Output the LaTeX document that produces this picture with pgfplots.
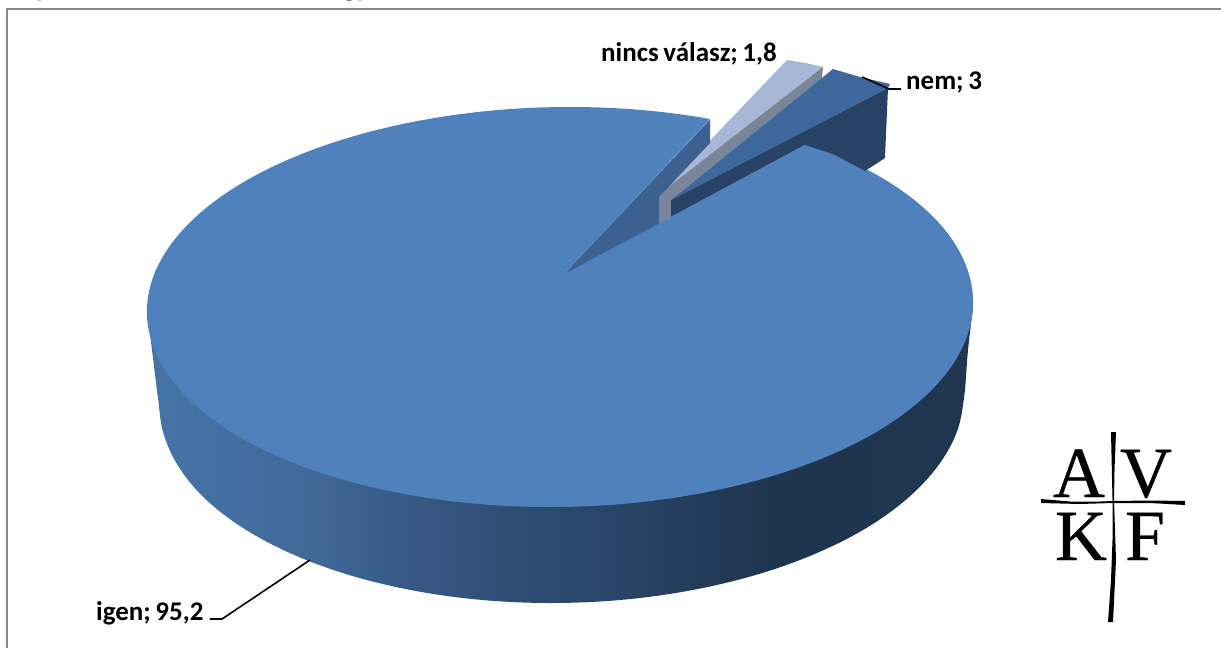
\documentclass[border=0pt]{standalone}
\usepackage{fontspec}
\setmainfont{Carlito}[WordSpace=0.75]
\newfontfamily\serif[FakeBold=0.4]{Liberation Serif}
\usepackage{pgfplots}
\pgfplotsset{compat=1.18}
\definecolor{topc}{RGB}{79,129,189}
\definecolor{wallc}{RGB}{60,97,144}
\definecolor{nemtop}{RGB}{62,104,156}
\definecolor{nemwall}{RGB}{39,66,100}
\definecolor{lighttop}{RGB}{167,183,213}
\definecolor{graywall}{RGB}{122,133,153}
\definecolor{bordc}{RGB}{134,134,134}
\definecolor{sa}{RGB}{70,116,168}
\definecolor{sb}{RGB}{65,106,153}
\definecolor{sc}{RGB}{55,90,134}
\definecolor{sd}{RGB}{44,74,112}
\definecolor{se}{RGB}{36,60,90}
\definecolor{sf}{RGB}{31,52,78}
\definecolor{sg}{RGB}{32,53,79}
\pgfdeclarehorizontalshading{sideshade}{100bp}{
 color(0bp)=(sa);
 color(25bp)=(sa);
 color(34.3bp)=(sb);
 color(40.3bp)=(sc);
 color(49.4bp)=(sd);
 color(58.5bp)=(se);
 color(62.7bp)=(sf);
 color(75bp)=(sg);
 color(100bp)=(sg)}
\tikzset{lab/.style={font=\fontsize{27}{27}\selectfont\bfseries, inner sep=0pt, anchor=base west},
 logo/.style={font=\serif\fontsize{72}{72}\selectfont, inner sep=0pt, anchor=base}}
\begin{document}
\begin{tikzpicture}
\useasboundingbox (0,0) rectangle (1221pt,648pt);
\begin{axis}[
  at={(0,0)}, anchor=south west,
  scale only axis, width=1221pt, height=648pt,
  xmin=0, xmax=1221, ymin=0, ymax=648, y dir=reverse,
  hide axis, clip=true,
  every axis plot/.append style={line join=round},
]
% frame
\addplot[bordc, line width=2pt] coordinates {(7,648)(7,9)(1221,9)};
% side of the big slice
\addplot[shading=sideshade, draw=none, smooth, tension=0.6] coordinates {
(147,307)(152,350)(158,398)(163.5,433.6)(179.5,468.1)(207,500.5)(245.9,529.8)(294.3,555)(350.8,575.5)(413.8,590.6)(481.2,599.9)(551,603)
(621.2,599.9)(689.4,590.6)(753.8,575.5)(812.3,555)(863.3,529.8)(905,500.5)(936.3,468.1)(956.2,433.6)(964,398)(968,350)(973,307)} -- cycle;
% top of the disc
\addplot[fill=topc, draw=none, smooth, tension=0.6] coordinates {
(965,341.7)(973,307)(968.4,272.3)(951.5,238.6)(922.7,207)(882.8,178.4)(833.2,153.8)(775.2,133.8)(710.6,119.1)(641.5,110)(570,107)(498.1,110)(428.2,119.1)(362.2,133.8)(302.2,153.8)(250,178.4)(207.3,207)(175.3,238.6)(155,272.3)(147,307)
(151.6,341.7)(168.5,375.4)(197.3,407)(237.2,435.6)(286.8,460.2)(344.8,480.2)(409.4,494.9)(478.5,504)(550,507)(621.9,504)(691.8,494.9)(757.8,480.2)(817.8,460.2)(870,435.6)(912.7,407)(944.7,375.4)(965,341.7)(973,307)(968.4,272.3)} -- cycle;
% the gap of the exploded slices
\addplot[fill=white, draw=none] coordinates {(563,275)(710,119)(710,95)(812,95)(805,145)} -- cycle;
% nincs valasz slice
\addplot[fill=lighttop, draw=none] coordinates {(658,195)(787,60)(805,63)(823,67)} -- cycle;
\addplot[fill=graywall, draw=none] coordinates {(658,195)(823,67)(822,78)(671,200)(671,217)(658,224)} -- cycle;
% nem slice
\addplot[fill=nemtop, draw=none] coordinates {(671,200)(833,69)(860,77)(890,84)(888,88)} -- cycle;
\addplot[fill=nemwall, draw=none] coordinates {(671,200)(888,88)(885,158)(865,171)(833,154)(805,145)(671,217)} -- cycle;
% wall of the notch of the big slice
\addplot[fill=wallc, draw=none] coordinates {(563,275)(710,119.5)(710,143)(659,197)(659,224)} -- cycle;
\addplot[topc, line width=0.3pt, line join=miter] coordinates {(710,119.5)(563,275)(805,145)};
% leaders
\addplot[black, line width=1.6pt] coordinates {(862,77)(889,89)(901,89)};
\addplot[black, line width=1.6pt] coordinates {(310,560)(222,619)(210,619)};
% logo lines
\addplot[fill=black, draw=none] coordinates {(1041,499)(1070,501.5)(1100,501.5)(1113,501)(1150,500.5)(1185,501)(1185,505)(1150,503)(1113,503)(1080,504)(1041,503)} -- cycle;
\addplot[fill=black, draw=none] coordinates {(1111,432)(1116,432)(1114.5,470)(1114,500)(1116,560)(1113,622)(1108,622)(1111,580)(1112.5,540)(1112.5,500)} -- cycle;
% labels
\node[lab] at (axis cs:601,61) {nincs válasz; 1,8};
\node[lab] at (axis cs:906,89.5) {nem; 3};
\node[lab] at (axis cs:96,620) {igen; 95,2};
% cropped title remains
\node[lab] at (axis cs:36,-4) {p};
\node[lab] at (axis cs:343,-4) {gy};
% logo letters
\node[logo] at (axis cs:1079,497) {A};
\node[logo] at (axis cs:1146,497) {V};
\node[logo] at (axis cs:1081,560) {K};
\node[logo] at (axis cs:1145,560) {F};
\end{axis}
\end{tikzpicture}
\end{document}
